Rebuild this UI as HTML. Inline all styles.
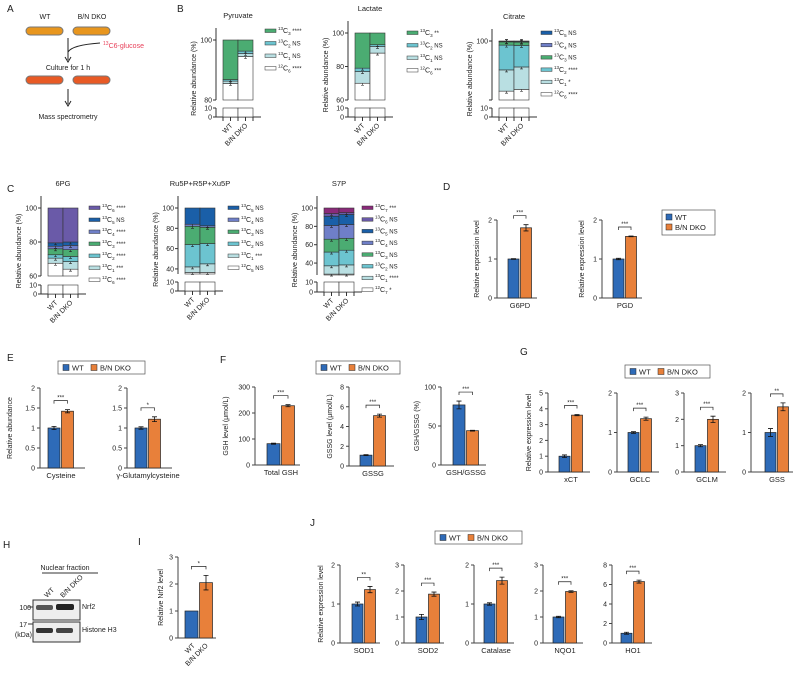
<!DOCTYPE html>
<html><head><meta charset="utf-8"><style>
body{margin:0;background:#fff;}
svg{display:block;font-family:"Liberation Sans",sans-serif;}
text{fill:#222;}
</style></head><body>
<svg id="fig" width="800" height="675" viewBox="0 0 800 675">
<g font-size="7">
<text x="7" y="12" font-size="10">A</text>
<text x="45" y="19" text-anchor="middle">WT</text>
<text x="92" y="19" text-anchor="middle">B/N DKO</text>
<g><rect x="26" y="27" width="37" height="8" rx="4" fill="#e8961e" stroke="#777"/></g>
<g><rect x="73" y="27" width="37" height="8" rx="4" fill="#e8961e" stroke="#777"/></g>
<path d="M68 38 V60 M65 57 L68 62 L71 57 M68 52 Q72 45 100 43" stroke="#222" fill="none"/>
<text x="103" y="48" fill="#e8415a" style="fill:#e8415a"><tspan font-size="5" dy="-3">13</tspan><tspan dy="3">C6-glucose</tspan></text>
<text x="68" y="70" text-anchor="middle">Culture for 1 h</text>
<rect x="26" y="76" width="37" height="8" rx="4" fill="#e85a25" stroke="#777"/>
<rect x="73" y="76" width="37" height="8" rx="4" fill="#e85a25" stroke="#777"/>
<path d="M68 89 V104 M65 101 L68 106 L71 101" stroke="#222" fill="none"/>
<text x="68" y="119" text-anchor="middle">Mass spectrometry</text>
</g>
<text x="177" y="12" font-size="10">B</text>
<text x="7" y="192" font-size="10">C</text>
<text x="443" y="190" font-size="10">D</text>
<text x="7" y="361" font-size="10">E</text>
<text x="220" y="363" font-size="10">F</text>
<text x="520" y="355" font-size="10">G</text>
<text x="3" y="548" font-size="10">H</text>
<text x="138" y="545" font-size="10">I</text>
<text x="310" y="526" font-size="10">J</text>
<g font-size="7">
<text x="65" y="570" text-anchor="middle">Nuclear fraction</text>
<line x1="42" y1="573" x2="98" y2="573" stroke="#333"/>
<text transform="translate(47,598) rotate(-45)">WT</text>
<text transform="translate(63,598) rotate(-45)">B/N DKO</text>
<rect x="33" y="600" width="47" height="20" fill="#eee" stroke="#333"/>
<rect x="36" y="605" width="17" height="5" rx="2" fill="#555"/><rect x="56" y="604" width="18" height="6" rx="2" fill="#222"/>
<rect x="33" y="622" width="47" height="20" fill="#eee" stroke="#333"/>
<rect x="36" y="628" width="17" height="5" rx="2" fill="#333"/><rect x="56" y="628" width="17" height="5" rx="2" fill="#444"/>
<text x="82" y="609">Nrf2</text>
<text x="82" y="632">Histone H3</text>
<text x="31" y="610" text-anchor="end">100</text><line x1="28" y1="607" x2="33" y2="607" stroke="#333"/>
<text x="27" y="627" text-anchor="end">17</text><line x1="28" y1="624" x2="33" y2="624" stroke="#333"/>
<text x="32" y="637" text-anchor="end">(kDa)</text>
</g>
</svg>
<script>
// ---------- data ----------
const groups=['WT','B/N DKO'];
const pyrWT=[85.5,86.3,86.8,100], pyrKO=[94.5,95.5,96.3,100];
const lacWT=[70,77,79,100], lacKO=[88,92,93,100];
const citWT=[15,51,93,98.5,99.2,100], citKO=[18,56,92.5,98,99.2,100];
const pgWT=[67.5,70.5,72.5,76,77.5,79.5,100], pgKO=[64,68.5,71.5,75.5,78,80,100];
const ruWT=[36.5,42,64,82,84,100], ruKO=[36.5,45,65,81,82.5,100];
const s7WT=[28,37,52,66,81,91,94,100], s7KO=[28,38,54,67,82,93,95,100];
const pyrLeg=[['13','C',3,'****'],['13','C',2,'NS'],['13','C',1,'NS'],['12','C',6,'****']];
const lacLeg=[['13','C',3,'**'],['13','C',2,'NS'],['13','C',1,'NS'],['12','C',6,'***']];
const citLeg=[['13','C',5,'NS'],['13','C',4,'NS'],['13','C',3,'NS'],['13','C',2,'****'],['13','C',1,'*'],['12','C',6,'****']];
const pgLeg=[['13','C',6,'****'],['13','C',5,'NS'],['13','C',4,'****'],['13','C',3,'****'],['13','C',2,'****'],['13','C',1,'***'],['12','C',6,'****']];
const ruLeg=[['13','C',5,'NS'],['13','C',4,'NS'],['13','C',3,'NS'],['13','C',2,'NS'],['13','C',1,'***'],['12','C',5,'NS']];
const s7Leg=[['13','C',7,'***'],['13','C',6,'NS'],['13','C',5,'NS'],['13','C',4,'NS'],['13','C',3,'NS'],['13','C',2,'NS'],['13','C',1,'****'],['12','C',7,'*']];
// simple bars: [WT, DKO], errors
const g6pd=[1,1.8], g6pdE=[0.01,0.08]; const pgd=[1,1.58], pgdE=[0.02,0.01];
const cys=[1,1.42], cysE=[0.04,0.04]; const gglu=[1,1.22], ggluE=[0.03,0.06];
const gsh=[82,228], gshE=[2,4]; const gssg=[1.1,5.1], gssgE=[0.05,0.15]; const ratio=[77,44], ratioE=[5,0.5];
const xct=[1,3.6], xctE=[0.08,0.04]; const gclc=[1,1.35], gclcE=[0.02,0.04]; const gclm=[1,2], gclmE=[0.04,0.12]; const gss=[1,1.65], gssE=[0.1,0.1];
const nrf=[1,2.05], nrfE=[0,0.27];
const sod1=[1,1.37], sod1E=[0.05,0.08]; const sod2=[1,1.88], sod2E=[0.1,0.08]; const cat=[1,1.6], catE=[0.03,0.09]; const nqo=[1,1.98], nqoE=[0.03,0.03]; const ho1=[1,6.3], ho1E=[0.1,0.15];
// ---------- drawing ----------
const NS='http://www.w3.org/2000/svg', svg=document.getElementById('fig');
function el(t,a,p){const e=document.createElementNS(NS,t);for(const k in a)e.setAttribute(k,a[k]);(p||svg).appendChild(e);return e;}
function txt(s,a,p){const e=el('text',a,p);e.textContent=s;return e;}
const WT='#2e6bb8', KO='#e8803a';
const stackCols={3:[],4:['#fff','#b9dfe2','#6cc4d0','#4bac72'],6:['#fff','#b9dfe2','#6cc4d0','#4bac72','#6f7fc8','#1a5fa8'],
7:['#fff','#b9dfe2','#6cc4d0','#4bac72','#6f7fc8','#1a5fa8','#6a5aa8'],8:['#fff','#b9dfe2','#6cc4d0','#4bac72','#6f7fc8','#1a5fa8','#6a5aa8','#8a2a7a']};
function stacked(name,c){
  const g=el('g',{'font-size':7});
  
  
  const Y=v=>c.yLo-(v-c.lo)/(100-c.lo)*(c.yLo-c.yTop);
  const Yb=v=>c.y0-v/10*(c.y0-c.y10);
  const t=txt(c.title,{x:c.ax+22,y:c.yTop-22,'text-anchor':'middle','font-size':7.5},g);
  
  const yl=txt('Relative abundance (%)',{transform:`translate(${c.ax-20},${(c.yTop+c.y0)/2}) rotate(-90)`,'text-anchor':'middle'},g);
  
  el('line',{x1:c.ax,y1:c.yTop-12,x2:c.ax,y2:c.yLo,stroke:'#333'},g);
  el('line',{x1:c.ax,y1:c.y10,x2:c.ax,y2:c.y0,stroke:'#333'},g);
  el('line',{x1:c.ax,y1:c.y0,x2:c.ax+45,y2:c.y0,stroke:'#333'},g);
  c.ticks.forEach(v=>{const y=Y(v);el('line',{x1:c.ax-3,y1:y,x2:c.ax,y2:y,stroke:'#333'},g);if(v>c.lo||c.lo>=40)txt(String(v),{x:c.ax-4,y:y+2.5,'text-anchor':'end'},g);});
  [10,0].forEach(v=>{const y=Yb(v);el('line',{x1:c.ax-3,y1:y,x2:c.ax,y2:y,stroke:'#333'},g);txt(String(v),{x:c.ax-4,y:y+2.5,'text-anchor':'end'},g);});
  [c.wt,c.ko].forEach((arr,i)=>{const bx=c.ax+7+i*15;const cols=stackCols[arr.length];
    el('rect',{x:bx,y:c.y10,width:15,height:c.y0-c.y10,fill:'#fff',stroke:'#333','stroke-width':0.6},g);
    let prev=c.lo;arr.forEach((v,k)=>{const r=el('rect',{x:bx,y:Y(v),width:15,height:Y(prev)-Y(v),fill:cols[k],stroke:'#333','stroke-width':0.6},g);
      
      if(v<100)el('path',{d:`M${bx+7.5} ${Y(v)-2}V${Y(v)+2}M${bx+6} ${Y(v)-2}h3M${bx+6} ${Y(v)+2}h3`,stroke:'#222','stroke-width':0.6},g);prev=v;});
    [0,7.5,15].forEach(d=>el('line',{x1:bx+d,y1:c.y0,x2:bx+d,y2:c.y0+4,stroke:'#333'},g));
    const lb=txt(groups[i],{transform:`translate(${bx+10},${c.y0+9}) rotate(-45)`,'text-anchor':'end'},g);
    
  });
  const n=c.leg.length, cols=stackCols[n];
  c.leg.forEach((l,k)=>{const y=c.ly+k*c.ls;
    const sw=el('rect',{x:c.lx,y:y-4,width:11,height:3.5,fill:cols[n-1-k],stroke:'#333','stroke-width':0.5},g);
    
    const t=el('text',{x:c.lx+13,y:y},g);t.innerHTML=`<tspan font-size="4.5" dy="-3">${l[0]}</tspan><tspan dy="3">${l[1]}</tspan><tspan font-size="4.5" dy="2">${l[2]}</tspan><tspan dy="-2" font-size="6"> ${l[3]}</tspan>`;
    });
}
stacked('pyruvate-chart',{title:'Pyruvate',ax:216,yTop:40,yLo:100,lo:80,y10:108,y0:117,ticks:[100,80],wt:pyrWT,ko:pyrKO,leg:pyrLeg,lx:265,ly:33,ls:12.5});
stacked('lactate-chart',{title:'Lactate',ax:348,yTop:33,yLo:100,lo:60,y10:108,y0:117,ticks:[100,80,60],wt:lacWT,ko:lacKO,leg:lacLeg,lx:407,ly:35,ls:12.5});
stacked('citrate-chart',{title:'Citrate',ax:492,yTop:41,yLo:100,lo:0,y10:108,y0:117,ticks:[100,0],wt:citWT,ko:citKO,leg:citLeg,lx:541,ly:35,ls:12.3});
stacked('6pg-chart',{title:'6PG',ax:41,yTop:208,yLo:276,lo:60,y10:285,y0:294,ticks:[100,80,60],wt:pgWT,ko:pgKO,leg:pgLeg,lx:89,ly:210,ls:12});
stacked('ru5p-chart',{title:'Ru5P+R5P+Xu5P',ax:178,yTop:208,yLo:274,lo:35,y10:282,y0:291,ticks:[100,80,60,40],wt:ruWT,ko:ruKO,leg:ruLeg,lx:228,ly:210,ls:12});
stacked('s7p-chart',{title:'S7P',ax:317,yTop:208,yLo:275,lo:27,y10:282,y0:292,ticks:[100,80,60,40],wt:s7WT,ko:s7KO,leg:s7Leg,lx:362,ly:210,ls:11.7});

function barChart(name,c){
  const g=el('g',{'font-size':7});
  
  
  const Y=v=>c.y0-v/c.max*(c.y0-c.yTop);
  el('line',{x1:c.ax,y1:c.yTop,x2:c.ax,y2:c.y0,stroke:'#444'},g);
  el('line',{x1:c.ax,y1:c.y0,x2:c.ax+c.w,y2:c.y0,stroke:'#444'},g);
  c.ticks.forEach(v=>{const y=Y(v);el('line',{x1:c.ax-3,y1:y,x2:c.ax,y2:y,stroke:'#444'},g);txt(String(v),{x:c.ax-5,y:y+2.5,'text-anchor':'end'},g);});
  if(c.ytitle){const t=txt(c.ytitle,{transform:`translate(${c.ax-(c.yt||18)},${(c.yTop+c.y0)/2}) rotate(-90)`,'text-anchor':'middle'},g);}
  let tops=[];
  c.vals.forEach((v,i)=>{const bx=c.bx+i*(c.bw+1.5);
    const r=el('rect',{x:bx,y:Y(v),width:c.bw,height:c.y0-Y(v),fill:i?KO:WT,stroke:'#222','stroke-width':0.7},g);
    
    const e=c.errs[i],cx=bx+c.bw/2;
    if(e>0)el('path',{d:`M${cx} ${Y(v+e)}V${Y(v-e)}M${cx-2.5} ${Y(v+e)}h5M${cx-2.5} ${Y(v-e)}h5`,stroke:'#111','stroke-width':0.8},g);
    tops.push(Y(v+e));});
  const x1=c.bx+c.bw/2,x2=c.bx+c.bw*1.5+1.5,yb=Math.min(...tops)-9;
  el('path',{d:`M${x1} ${yb+3}V${yb}H${x2}V${yb+3}`,stroke:'#222',fill:'none','stroke-width':0.7},g);
  txt(c.sig,{x:(x1+x2)/2,y:yb-1,'text-anchor':'middle','font-size':6},g);
  if(c.rot){groups.forEach((s,i)=>txt(s,{transform:`translate(${c.bx+c.bw*(i+0.8)},${c.y0+8}) rotate(-45)`,'text-anchor':'end'},g));}
  else{const t=txt(c.label,{x:c.bx+c.bw+1,y:c.y0+10,'text-anchor':'middle','font-size':7.5},g);}
}
barChart('g6pd-chart',{ax:497,yTop:220,y0:298,max:2,ticks:[0,1,2],vals:g6pd,errs:g6pdE,bx:508,bw:11,w:40,label:'G6PD',sig:'***',ytitle:'Relative expression level'});
barChart('pgd-chart',{ax:602,yTop:220,y0:298,max:2,ticks:[0,1,2],vals:pgd,errs:pgdE,bx:613,bw:11,w:40,label:'PGD',sig:'***',ytitle:'Relative expression level'});
barChart('cysteine-chart',{ax:40,yTop:388,y0:468,max:2,ticks:[0,0.5,1,1.5,2],vals:cys,errs:cysE,bx:48,bw:12,w:45,label:'Cysteine',sig:'***',ytitle:'Relative abundance',yt:28});
barChart('gglu-chart',{ax:127,yTop:388,y0:468,max:2,ticks:[0,0.5,1,1.5,2],vals:gglu,errs:ggluE,bx:135,bw:12,w:45,label:'γ-Glutamylcysteine',sig:'*'});
barChart('gsh-chart',{ax:255,yTop:387,y0:465,max:300,ticks:[0,100,200,300],vals:gsh,errs:gshE,bx:267,bw:13,w:45,label:'Total GSH',sig:'***',ytitle:'GSH level (μmol/L)',yt:27});
barChart('gssg-chart',{ax:349,yTop:387,y0:466,max:8,ticks:[0,2,4,6,8],vals:gssg,errs:gssgE,bx:360,bw:12,w:45,label:'GSSG',sig:'***',ytitle:'GSSG level (μmol/L)',yt:17});
barChart('ratio-chart',{ax:441,yTop:387,y0:465,max:100,ticks:[0,50,100],vals:ratio,errs:ratioE,bx:453,bw:12,w:45,label:'GSH/GSSG',sig:'***',ytitle:'GSH/GSSG (%)',yt:22});
barChart('xct-chart',{ax:548,yTop:393,y0:472,max:5,ticks:[0,1,2,3,4,5],vals:xct,errs:xctE,bx:559,bw:11,w:42,label:'xCT',sig:'***',ytitle:'Relative expression level',yt:17});
barChart('gclc-chart',{ax:617,yTop:393,y0:472,max:2,ticks:[0,1,2],vals:gclc,errs:gclcE,bx:628,bw:11,w:42,label:'GCLC',sig:'***'});
barChart('gclm-chart',{ax:684,yTop:393,y0:472,max:3,ticks:[0,1,2,3],vals:gclm,errs:gclmE,bx:695,bw:11,w:42,label:'GCLM',sig:'***'});
barChart('gss-chart',{ax:751,yTop:393,y0:472,max:2,ticks:[0,1,2],vals:gss,errs:gssE,bx:765,bw:11,w:42,label:'GSS',sig:'**'});
barChart('nrf2-chart',{ax:178,yTop:557,y0:638,max:3,ticks:[0,1,2,3],vals:nrf,errs:nrfE,bx:185,bw:13,w:38,sig:'*',rot:true,ytitle:'Relative Nrf2 level',yt:15});
barChart('sod1-chart',{ax:340,yTop:565,y0:643,max:2,ticks:[0,1,2],vals:sod1,errs:sod1E,bx:352,bw:11,w:40,label:'SOD1',sig:'**',ytitle:'Relative expression level',yt:17});
barChart('sod2-chart',{ax:404,yTop:565,y0:643,max:3,ticks:[0,1,2,3],vals:sod2,errs:sod2E,bx:416,bw:11,w:40,label:'SOD2',sig:'***'});
barChart('catalase-chart',{ax:474,yTop:565,y0:643,max:2,ticks:[0,1,2],vals:cat,errs:catE,bx:484,bw:11,w:40,label:'Catalase',sig:'***'});
barChart('nqo1-chart',{ax:543,yTop:565,y0:643,max:3,ticks:[0,1,2,3],vals:nqo,errs:nqoE,bx:553,bw:11,w:40,label:'NQO1',sig:'***'});
barChart('ho1-chart',{ax:612,yTop:565,y0:643,max:8,ticks:[0,2,4,6,8],vals:ho1,errs:ho1E,bx:621,bw:11,w:40,label:'HO1',sig:'***'});

function legend(name,x,y,w,vertical){
  const g=el('g',{'font-size':7.5});
  
  
  el('rect',{x:x,y:y,width:w,height:vertical?25:13,fill:'#fff',stroke:'#555','stroke-width':0.7},g);
  if(vertical){el('rect',{x:x+4,y:y+4,width:6,height:6,fill:WT,stroke:'#222','stroke-width':0.5},g);txt('WT',{x:x+13,y:y+10},g);
    el('rect',{x:x+4,y:y+14,width:6,height:6,fill:KO,stroke:'#222','stroke-width':0.5},g);txt('B/N DKO',{x:x+13,y:y+20},g);}
  else{el('rect',{x:x+5,y:y+3.5,width:6,height:6,fill:WT,stroke:'#222','stroke-width':0.5},g);txt('WT',{x:x+14,y:y+9.5},g);
    el('rect',{x:x+33,y:y+3.5,width:6,height:6,fill:KO,stroke:'#222','stroke-width':0.5},g);txt('B/N DKO',{x:x+42,y:y+9.5},g);}
}
legend('legend-d',662,210,53,true);
legend('legend-e',58,361,87);
legend('legend-f',316,361,84);
legend('legend-g',625,365,85);
legend('legend-j',435,531,87);
</script>
</body></html>
